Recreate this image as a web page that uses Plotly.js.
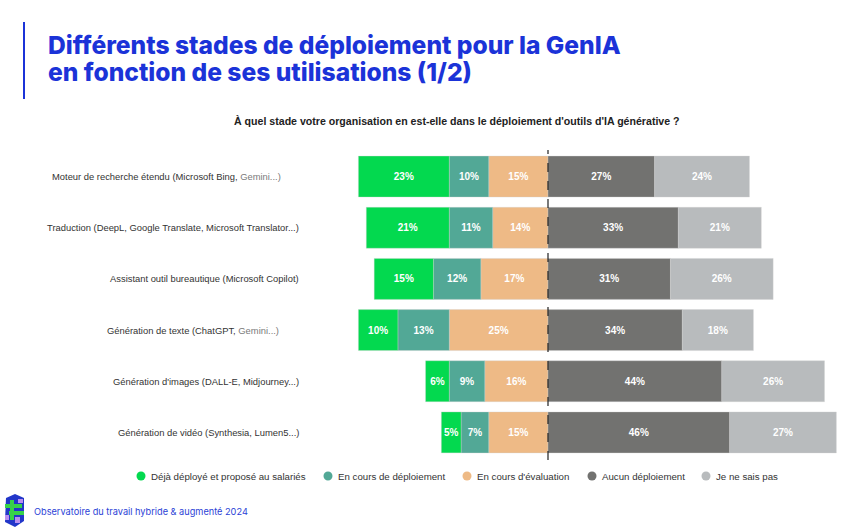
<!DOCTYPE html>
<html><head><meta charset="utf-8">
<script src="https://cdn.plot.ly/plotly-3.0.1.min.js"></script>
<style>html,body{margin:0;padding:0;background:#fff;}#chart{width:868px;height:529px;}</style>
</head><body><div id="chart"></div>
<script>
const categories = [
  "Moteur de recherche étendu (Microsoft Bing, <span style='color:#7a7a7a'>Gemini...)</span>",
  "Traduction (DeepL, Google Translate, Microsoft Translator...)",
  "Assistant outil bureautique (Microsoft Copilot)",
  "Génération de texte (ChatGPT, <span style='color:#7a7a7a'>Gemini...)</span>",
  "Génération d'images (DALL-E, Midjourney...)",
  "Génération de vidéo (Synthesia, Lumen5...)"
];
const seriesNames = ["Déjà déployé et proposé au salariés","En cours de déploiement","En cours d'évaluation","Aucun déploiement","Je ne sais pas"];
const deploye    = [23, 21, 15, 10, 6, 5];
const enCoursDep = [10, 11, 12, 13, 9, 7];
const enCoursEval= [15, 14, 17, 25, 16, 15];
const aucun      = [27, 33, 31, 34, 44, 46];
const nsp        = [24, 21, 26, 18, 26, 27];
const colors = ["#03d94f","#52a896","#eeba86","#727270","#b8bbbd"];

const FONT = 'Liberation Sans, Arial, sans-serif';
const ids = categories.map((c,i)=>i);
function barTrace(vals, sign, name, color){
  return {type:'bar', orientation:'h', y:ids, x:vals.map(v=>sign*v),
    text:vals.map(v=>v+'%'), textposition:'inside', insidetextanchor:'middle',
    textangle:0, constraintext:'none',
    textfont:{color:'#ffffff', size:10, family:FONT, weight:'bold'},
    marker:{color:color, line:{color:'rgba(210,210,210,0.7)', width:0.5}},
    name:name, showlegend:false, hoverinfo:'skip'};
}
const traces = [
  barTrace(enCoursEval,-1,seriesNames[2],colors[2]),
  barTrace(enCoursDep,-1,seriesNames[1],colors[1]),
  barTrace(deploye,-1,seriesNames[0],colors[0]),
  barTrace(aucun,1,seriesNames[3],colors[3]),
  barTrace(nsp,1,seriesNames[4],colors[4])
];

// plot area in pixels
const L=308, R=848, T=151, B=458;
function PX(x){return (x-L)/(R-L);} function PY(y){return (B-y)/(B-T);}
const labelRight = [283, 301, 301, 281, 301, 301];

const annotations = categories.map((c,i)=>({
  xref:'paper', yref:'y', x:PX(labelRight[i]), y:i, text:c, showarrow:false, xanchor:'right', yanchor:'middle',
  font:{size:9.4, color:'#333333', family:FONT}
}));
annotations.push({xref:'paper', yref:'paper', x:PX(46), y:PY(45), xanchor:'left', yanchor:'middle',
  text:'Différents stades de déploiement pour la GenIA', showarrow:false,
  font:{size:24.6, color:'#1b33d8', family:'Inter, sans-serif', weight:800}});
annotations.push({xref:'paper', yref:'paper', x:PX(46), y:PY(72), xanchor:'left', yanchor:'middle',
  text:'en fonction de ses utilisations (1/2)', showarrow:false,
  font:{size:24.6, color:'#1b33d8', family:'Inter, sans-serif', weight:800}});
annotations.push({xref:'paper', yref:'paper', x:PX(457), y:PY(121), xanchor:'center', yanchor:'middle',
  text:"À quel stade votre organisation en est-elle dans le déploiement d'outils d'IA générative ?", showarrow:false,
  font:{size:10.6, color:'#222222', family:FONT, weight:'bold'}});
annotations.push({xref:'paper', yref:'paper', x:PX(32), y:PY(511), xanchor:'left', yanchor:'middle',
  text:'Observatoire du travail hybride & augmenté 2024', showarrow:false,
  font:{size:9.2, color:'#2b3fd6', family:'Inter, sans-serif'}});

// manual legend
const legCircleX = [141, 328, 467, 592, 706];
const legY = 476;
const shapes = [
  {type:'line', xref:'x', yref:'paper', x0:0, x1:0, y0:PY(460), y1:PY(150), line:{color:'#222', width:1.2, dash:'dash'}}
];
seriesNames.forEach((n,i)=>{
  const cx = legCircleX[i];
  shapes.push({type:'circle', xref:'paper', yref:'paper', x0:PX(cx-4.5), x1:PX(cx+4.5), y0:PY(legY+4.5), y1:PY(legY-4.5),
    fillcolor:colors[i], line:{width:0}});
  annotations.push({xref:'paper', yref:'paper', x:PX(cx+8), y:PY(legY), xanchor:'left', yanchor:'middle',
    text:n, showarrow:false, font:{size:9.7, color:'#333', family:FONT}});
});

const cshapes = [
  {type:'rect', x0:23, x1:25, y0:22, y1:99, fill:'#1b33d8'},
  {type:'path', pts:[[6,498],[15,494],[24,498],[24,521],[15,527],[5,522]], fill:'#2236c9'},
  {type:'rect', x0:5, x1:22, y0:504, y1:508, fill:'#37d24a'},
  {type:'rect', x0:9, x1:24, y0:511, y1:515, fill:'#37d24a'},
  {type:'rect', x0:10, x1:14, y0:500, y1:520, fill:'#37d24a'},
  {type:'rect', x0:15, x1:20, y0:517, y1:523, fill:'#b98ef0'},
  {type:'rect', x0:5, x1:9, y0:515, y1:520, fill:'#b98ef0'},
  {type:'rect', x0:18, x1:23, y0:499, y1:503, fill:'#b98ef0'}
];
cshapes.forEach(s=>{
  if(s.type==='rect'){
    shapes.push({type:'rect', xref:'paper', yref:'paper', x0:PX(s.x0), x1:PX(s.x1),
      y0:PY(s.y1), y1:PY(s.y0), fillcolor:s.fill, line:{width:0}, layer:'above'});
  } else {
    const path = s.pts.map((p,i)=>(i?'L':'M')+PX(p[0]).toFixed(4)+','+PY(p[1]).toFixed(4)).join(' ')+' Z';
    shapes.push({type:'path', xref:'paper', yref:'paper', path:path, fillcolor:s.fill, line:{width:0}, layer:'above'});
  }
});

const pxPerPct = 3.95, center = 548;
const layout = {
  width:868, height:529, paper_bgcolor:'#fff', plot_bgcolor:'#fff',
  margin:{l:L, r:868-R, t:T, b:529-B, pad:0, autoexpand:false},
  barmode:'relative', bargap:0.2,
  xaxis:{range:[-(center-L)/pxPerPct, (R-center)/pxPerPct], visible:false, fixedrange:true},
  yaxis:{range:[5.5,-0.5], visible:false, fixedrange:true},
  showlegend:false,
  annotations:annotations, shapes:shapes
};
Plotly.newPlot('chart', traces, layout, {staticPlot:true, displayModeBar:false});
</script></body></html>
